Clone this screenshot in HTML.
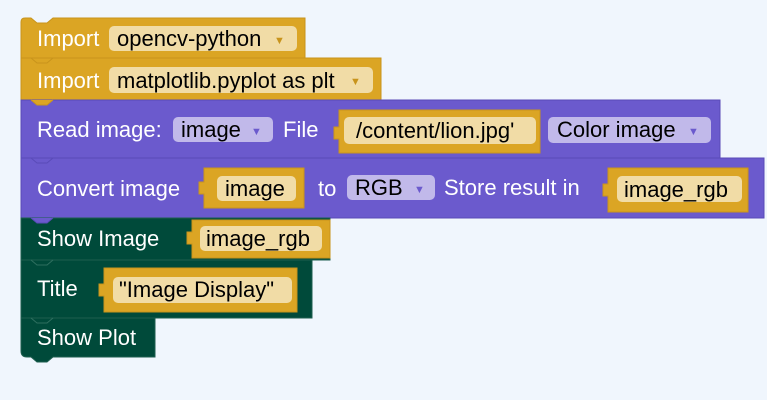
<!DOCTYPE html>
<html><head><meta charset="utf-8"><style>
html,body{margin:0;padding:0;background:#f0f6fd;}
svg{display:block}
text{font-family:"Liberation Sans",Arial,sans-serif;font-size:22px;}
.w{fill:#fff}.k{fill:#000}
</style></head><body>
<svg width="767" height="400" viewBox="0 0 767 400">
<rect width="767" height="400" fill="#f0f6fd"/>
<!-- Block 1 -->
<path d="M21,22 q0,-4 4,-4 h6 l6,5 h10 l6,-5 h252 v40 h-284 z" fill="#dba524" stroke="#c8941c"/>
<rect x="109" y="26" width="188" height="25" rx="5" fill="#f1dca6"/>
<text x="37" y="46" class="w">Import</text>
<text x="117" y="46" class="k">opencv-python</text>
<text x="274" y="44" fill="#c8941c" style="font-size:11px">▼</text>
<!-- Block 2 -->
<rect x="21" y="58" width="360" height="42" fill="#dba524" stroke="#c8941c"/>
<path d="M31,58 l6,5 h10 l6,-5" fill="none" stroke="#c8941c"/>
<rect x="109" y="67" width="264" height="26" rx="5" fill="#f1dca6"/>
<text x="37" y="88" class="w">Import</text>
<text x="117" y="88" class="k">matplotlib.pyplot as plt</text>
<text x="350" y="85" fill="#c8941c" style="font-size:11px">▼</text>
<!-- Block 3 -->
<rect x="21" y="100" width="699" height="58" fill="#6b5acd" stroke="#5a4bb8"/>
<path d="M31,100 l6,5 h10 l6,-5" fill="#dba524" stroke="#c8941c"/>
<rect x="173" y="117" width="100" height="25" rx="5" fill="#c1b9ea"/>
<text x="37" y="137" class="w">Read image:</text>
<text x="181" y="137" class="k">image</text>
<text x="251" y="135" fill="#6b5acd" style="font-size:11px">▼</text>
<text x="283" y="137" class="w">File</text>
<path d="M339,110 h201 v43 h-201 v-14 h-5 v-12 h5 z" fill="#dba524" stroke="#c8941c"/>
<rect x="344" y="117" width="192" height="27" rx="5" fill="#f1dca6"/>
<text x="356" y="138" class="k">/content/lion.jpg'</text>
<rect x="548" y="117" width="163" height="26" rx="5" fill="#c1b9ea"/>
<text x="557" y="137" class="k">Color image</text>
<text x="688" y="135" fill="#6b5acd" style="font-size:11px">▼</text>
<!-- Block 4 -->
<rect x="21" y="158" width="743" height="60" fill="#6b5acd" stroke="#5a4bb8"/>
<path d="M31,158 l6,5 h10 l6,-5" fill="none" stroke="#5a4bb8"/>
<text x="37" y="196" class="w">Convert image</text>
<path d="M204,168 h100 v40 h-100 v-14 h-5 v-12 h5 z" fill="#dba524" stroke="#c8941c"/>
<rect x="217" y="176" width="79" height="25" rx="5" fill="#f1dca6"/>
<text x="225" y="196" class="k">image</text>
<text x="318" y="196" class="w">to</text>
<rect x="347" y="175" width="88" height="25" rx="5" fill="#c1b9ea"/>
<text x="355" y="195" class="k">RGB</text>
<text x="414" y="193" fill="#6b5acd" style="font-size:11px">▼</text>
<text x="444" y="195" class="w">Store result in</text>
<path d="M608,168 h140 v44 h-140 v-16 h-5 v-12 h5 z" fill="#dba524" stroke="#c8941c"/>
<rect x="617" y="176" width="125" height="26" rx="5" fill="#f1dca6"/>
<text x="624" y="197" class="k">image_rgb</text>
<!-- Block 5 -->
<rect x="21" y="218" width="309" height="42" fill="#004a3a" stroke="#1e5f4f"/>
<path d="M31,218 l6,5 h10 l6,-5" fill="#6b5acd" stroke="#5a4bb8"/>
<text x="37" y="246" class="w">Show Image</text>
<path d="M192,220 h138 v38 h-138 v-14 h-5 v-12 h5 z" fill="#dba524" stroke="#c8941c"/>
<rect x="200" y="226" width="122" height="25" rx="5" fill="#f1dca6"/>
<text x="206" y="246" class="k">image_rgb</text>
<!-- Block 6 -->
<rect x="21" y="260" width="291" height="58" fill="#004a3a" stroke="#1e5f4f"/>
<path d="M31,260 l6,5 h10 l6,-5" fill="none" stroke="#2e6f5f"/>
<text x="37" y="296" class="w">Title</text>
<path d="M104,268 h193 v44 h-193 v-16 h-5 v-12 h5 z" fill="#dba524" stroke="#c8941c"/>
<rect x="113" y="277" width="179" height="26" rx="5" fill="#f1dca6"/>
<text x="119" y="297" class="k">"Image Display"</text>
<!-- Block 7 -->
<path d="M21,318 h134 v39 h-102 l-6,5 h-10 l-6,-5 h-4 q-6,0 -6,-6 z" fill="#004a3a" stroke="#1e5f4f"/>
<path d="M31,318 l6,5 h10 l6,-5" fill="none" stroke="#2e6f5f"/>
<text x="37" y="345" class="w">Show Plot</text>
</svg>
</body></html>
